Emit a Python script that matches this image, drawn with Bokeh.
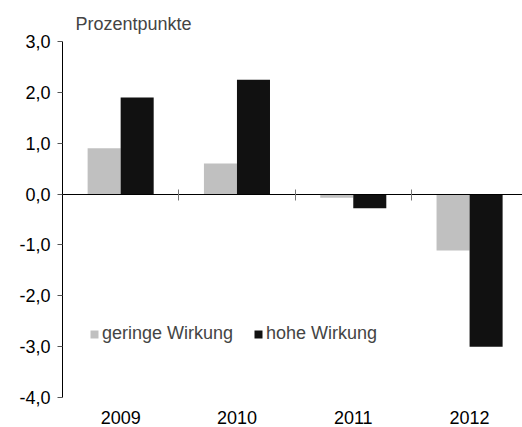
from bokeh.plotting import figure
from bokeh.models import (Range1d, LinearAxis, FixedTicker, CustomJSTickFormatter,
                          Legend, LegendItem, ColumnDataSource)
from bokeh.embed import file_html
from bokeh.resources import INLINE

years = ["2009", "2010", "2011", "2012"]
geringe = [0.9, 0.6, -0.07, -1.11]
hohe = [1.9, 2.25, -0.28, -3.0]
y_ticks = [-4, -3, -2, -1, 0, 1, 2, 3]
unit_label = "Prozentpunkte"
series_names = ["geringe Wirkung", "hohe Wirkung"]

FONT = "Liberation Sans"
FS = "18px"
bar_w = 0.284
idx = list(range(len(years)))
centers = [i + 0.5 for i in idx]

src = ColumnDataSource(dict(
    xg=[c - bar_w / 2 for c in centers],
    xh=[c + bar_w / 2 for c in centers],
    g=geringe, h=hohe,
))

p = figure(width=522, height=427, output_backend="svg", toolbar_location=None,
           x_range=Range1d(0, 3.955), y_range=Range1d(min(y_ticks), max(y_ticks)),
           x_axis_location=None, y_axis_location=None,
           min_border_left=62, min_border_right=0, min_border_top=41, min_border_bottom=30)
p.outline_line_color = None
p.grid.visible = False
p.background_fill_color = "white"
p.border_fill_color = "white"

p.title.text = unit_label
p.title.text_font = FONT
p.title.text_font_size = FS
p.title.text_font_style = "normal"
p.title.align = "left"
p.title.offset = 13
p.title.standoff = 15

rg = p.vbar(x="xg", top="g", width=bar_w, bottom=0, source=src,
            fill_color="#C0C0C0", line_color=None)
rh = p.vbar(x="xh", top="h", width=bar_w, bottom=0, source=src,
            fill_color="#111111", line_color=None)

# y axis
yax = LinearAxis(ticker=FixedTicker(ticks=y_ticks),
                 formatter=CustomJSTickFormatter(code="return tick.toFixed(1).replace('.', ',')"))
yax.axis_line_color = "black"
yax.major_tick_line_color = "#555555"
yax.major_tick_in = 0
yax.major_tick_out = 5
yax.minor_tick_line_color = None
yax.major_label_standoff = 7
yax.major_label_text_font = FONT
yax.major_label_text_font_size = FS
yax.major_label_text_color = "black"
p.add_layout(yax, "left")

# category labels
xax = LinearAxis(ticker=FixedTicker(ticks=centers),
                 formatter=CustomJSTickFormatter(args=dict(years=years),
                                                 code="return years[Math.floor(tick)]"))
xax.axis_line_color = None
xax.major_tick_line_color = None
xax.minor_tick_line_color = None
xax.major_label_standoff = 7
xax.major_label_text_font = FONT
xax.major_label_text_font_size = FS
xax.major_label_text_color = "black"
p.add_layout(xax, "below")

# zero line with category boundary ticks
zax = LinearAxis(ticker=FixedTicker(ticks=idx[1:]), fixed_location=0)
zax.axis_line_color = "black"
zax.major_tick_line_color = "#777777"
zax.major_tick_in = 5
zax.major_tick_out = 6
zax.minor_tick_line_color = None
zax.major_label_text_alpha = 0
zax.major_label_text_font_size = "1px"
p.add_layout(zax, "below")

legend = Legend(items=[LegendItem(label=series_names[0], renderers=[rg]),
                       LegendItem(label=series_names[1], renderers=[rh])],
                location=(27, 53), orientation="horizontal")
legend.label_text_font = FONT
legend.label_text_font_size = FS
legend.label_standoff = 3
legend.glyph_width = 10
legend.glyph_height = 10
legend.spacing = 20
legend.padding = 0
legend.margin = 0
legend.border_line_color = None
legend.background_fill_alpha = 0
p.add_layout(legend, "center")

open("out.html", "w").write(file_html(p, INLINE))
